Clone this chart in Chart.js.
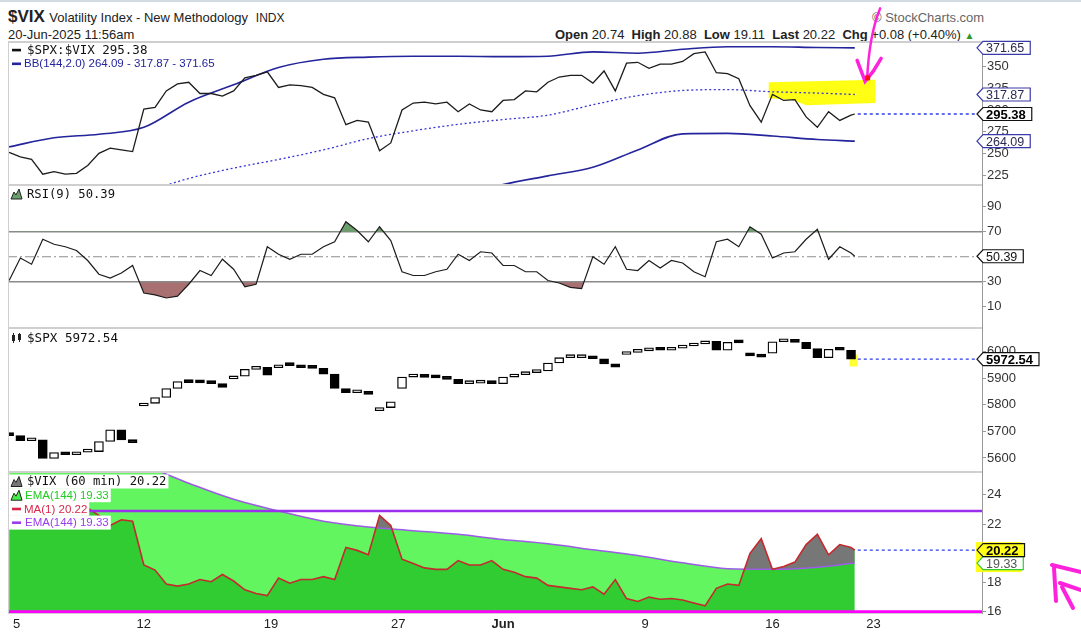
<!DOCTYPE html>
<html lang="en">
<head>
<meta charset="UTF-8">
<title>$VIX Volatility Index - New Methodology</title>
<style>
  body { margin: 0; background: #fff; font-family: "Liberation Sans", Arial, sans-serif; color: #222; }
  #page { position: relative; width: 1081px; height: 636px; overflow: hidden; }
  .topline { position: absolute; left: 0; top: 0; width: 1081px; height: 2px; background: #d3dbe2; }
  .hdr { position: absolute; white-space: nowrap; line-height: 16px; }
  canvas { position: absolute; left: 0; }
</style>
</head>
<body>
<div id="page">
  <div class="topline"></div>
  <div class="hdr" style="left:8px; top:9px;"><b style="font-size:17px">$VIX</b> <span style="font-size:13px">Volatility Index - New Methodology</span> <span style="font-size:12px">&nbsp;INDX</span></div>
  <div class="hdr" style="left:8px; top:27px; font-size:13px;">20-Jun-2025 11:56am</div>
  <div class="hdr" style="left:872px; top:10px; font-size:13px; color:#666;">&copy; StockCharts.com</div>
  <div class="hdr" style="left:555px; top:27px; font-size:13px;"><b>Open</b> 20.74 &nbsp;<b>High</b> 20.88 &nbsp;<b>Low</b> 19.11 &nbsp;<b>Last</b> 20.22 &nbsp;<b>Chg</b> +0.08 (+0.40%) <span style="color:#2a9a2a; font-size:10px">&#9650;</span></div>

  <canvas id="ratioChart" width="1081" height="191" style="top:0px"></canvas>
  <canvas id="rsiChart" width="1081" height="155" style="top:179px"></canvas>
  <canvas id="spxChart" width="1081" height="156" style="top:322px"></canvas>
  <canvas id="vixChart" width="1081" height="170" style="top:466px"></canvas>
</div>

<script src="https://cdn.jsdelivr.net/npm/chart.js"></script>
<script>
// x axis = hourly bar number (0 = first bar of 5-May, 226 = 20-Jun 11:30)
const dayTicks = [2, 36, 70, 104, 132, 170, 204, 231];
const dayLabels = ['5', '12', '19', '27', 'Jun', '9', '16', '23'];

// sampled every 3rd hourly bar
const barIdx = [
  0, 3, 6, 9, 12, 15, 18, 21, 24, 27,
  30, 33, 36, 39, 42, 45, 48, 51, 54, 57,
  60, 63, 66, 69, 72, 75, 78, 81, 84, 87,
  90, 93, 96, 99, 102, 105, 108, 111, 114, 117,
  120, 123, 126, 129, 132, 135, 138, 141, 144, 147,
  150, 153, 156, 159, 162, 165, 168, 171, 174, 177,
  180, 183, 186, 189, 192, 195, 198, 201, 204, 207,
  210, 213, 216, 219, 222, 225, 226
];

// $SPX:$VIX ratio
const ratio = [
  251, 246, 243, 226, 229, 226, 227, 236, 250, 256,
  254, 252, 301, 303, 322, 330, 332, 319, 319, 316,
  322, 337, 340, 344, 326, 329, 328, 326, 318, 314,
  283, 288, 286, 253, 262, 300, 308, 309, 307, 309,
  298, 307, 300, 298, 311, 312, 322, 321, 332, 338,
  340, 340, 331, 345, 322, 354, 355, 348, 353, 353,
  356, 365, 367, 343, 342, 336, 305, 286, 318, 311,
  312, 292, 280, 298, 288, 294, 295.38
];

// RSI(9)
const rsi = [
  31, 49, 44, 64, 60, 58, 55, 47, 36, 33,
  37, 43, 21, 19.5, 17, 18.5, 28, 39, 35, 48,
  40, 26, 28, 58, 52, 48, 52, 52, 58, 62,
  78, 71, 62, 74, 63, 38, 35, 35, 38, 40,
  52, 47, 54, 53, 43, 43, 38, 38, 31, 29,
  25.5, 24.5, 50, 44, 58, 40, 39, 47, 41, 47,
  45, 38, 34, 62, 64, 58, 74, 68, 49, 53,
  54, 64, 72, 48, 58, 53, 50.39
];

// $VIX (60 min)
const vix = [
  23.0, 23.2, 23.0, 23.3, 23.1, 23.2, 23.0, 23.1, 22.6, 21.9,
  22.3, 22.2, 19.2, 18.85, 17.9, 17.75, 17.9, 18.2, 18.05, 18.55,
  18.1, 17.5, 17.25, 17.1, 18.3, 17.95, 18.2, 18.2, 18.4, 18.2,
  20.4, 20.2, 19.9, 22.6, 21.9, 19.6, 19.3, 19.0, 18.9, 18.9,
  19.5, 19.2, 19.2, 19.5, 18.9, 18.7, 18.4, 18.3, 17.8, 17.7,
  17.6, 17.5, 17.7, 17.2, 18.2, 16.9, 16.7, 17.0, 16.85, 16.9,
  16.8, 16.6, 16.4, 17.6, 17.9, 17.8, 20.0, 21.0, 18.9, 19.1,
  19.4, 20.6, 21.3, 19.9, 20.6, 20.4, 20.22
];

// $SPX candles (one per 3 bars)
const spxOpen = [
  5690, 5684, 5665, 5668, 5598, 5620, 5612, 5622, 5624, 5662,
  5706, 5668, 5796, 5806, 5828, 5862, 5888, 5884, 5883, 5880,
  5898, 5908, 5934, 5942, 5940, 5950, 5948, 5940, 5938, 5916,
  5862, 5846, 5846, 5778, 5790, 5862, 5905, 5910, 5904, 5902,
  5896, 5880, 5882, 5884, 5880, 5905, 5914, 5922, 5928, 5958,
  5978, 5978, 5978, 5974, 5955, 5990, 5998, 6004, 6008, 6006,
  6014, 6022, 6030, 6040, 6006, 6036, 5992, 5985, 5995, 6038,
  6040, 6036, 6012, 5978, 6010, 6006
];
const spxClose = [
  5684, 5665, 5668, 5598, 5620, 5612, 5622, 5624, 5662, 5706,
  5668, 5658, 5806, 5828, 5862, 5888, 5884, 5883, 5880, 5866,
  5908, 5934, 5942, 5912, 5950, 5948, 5940, 5938, 5916, 5862,
  5846, 5846, 5840, 5790, 5812, 5905, 5910, 5904, 5902, 5896,
  5880, 5882, 5884, 5880, 5905, 5914, 5922, 5928, 5958, 5978,
  5978, 5978, 5974, 5955, 5942, 5998, 6004, 6008, 6006, 6014,
  6022, 6030, 6040, 6006, 6036, 6034, 5985, 5980, 6038, 6040,
  6036, 6012, 5978, 6010, 6006, 5972.54
];

// slow overlays, sampled every 12 bars
const slowIdx = [0, 12, 24, 36, 48, 60, 72, 84, 96, 108, 120, 132, 144, 156, 168, 180, 192, 204, 216, 226];
const bbUpper = [257.5, 268, 272, 280, 309, 329, 349, 358.5, 361, 362, 362, 361.5, 362, 367, 365.5, 370, 373, 373, 372, 371.65];
const bbMid = [null, null, null, 205, 221, 233, 243, 254, 267, 276, 283.5, 289, 294, 306, 316.5, 322.5, 323.5, 321, 319.5, 317.87];
const bbLower = [null, null, null, null, null, null, null, null, null, null, 200, 214, 224, 234, 254, 272.5, 273, 270, 266, 264.09];
const vixEma = [28.6, 27.6, 26.8, 26.0, 24.8, 23.7, 22.9, 22.2, 21.8, 21.55, 21.3, 20.95, 20.65, 20.25, 19.85, 19.35, 18.95, 18.9, 19.05, 19.33];

const ratioTicks = [225, 250, 275, 300, 325, 350];
const rsiTicks = [10, 30, 50, 70, 90];
const rsiLevels = [70, 50, 30];
const spxTicks = [5600, 5700, 5800, 5900, 6000];
const vixTicks = [16, 18, 20, 22, 24];
const vixLines = [22.9, 16.0];   // hand drawn horizontal lines

// hand drawn marks, in data units
const ratioMark = [[203, 332], [231.5, 335], [231.5, 308], [213, 305.5], [209.5, 311.5], [203, 313.5]];
const arrowTip = [229.3, 333];
const spxMark = [224.6, 226.7, 5945, 5990];

const LF = '"Liberation Sans", Arial, sans-serif';
const MF = '"DejaVu Sans Mono", monospace';
Chart.defaults.font.family = LF;
Chart.defaults.font.size = 13;
Chart.defaults.color = '#333';

const X_MIN = -0.3, X_MAX = 260;
const pts = (xs, ys) => ys.map((y, i) => ({ x: xs[i], y: y }));
const hline = v => [{ x: X_MIN, y: v }, { x: X_MAX, y: v }];
const last = a => a[a.length - 1];
const lastX = last(barIdx);

function xAxis(show) {
  return {
    type: 'linear', min: X_MIN, max: X_MAX, display: show, offset: false,
    grid: { display: false, drawTicks: false, offset: false },
    border: { display: true, color: '#cfcfcf' },
    afterBuildTicks: s => { s.ticks = dayTicks.map(v => ({ value: v })); },
    afterFit: s => { if (show) s.height = 23; s.paddingLeft = 0; s.paddingRight = 0; },
    ticks: {
      autoSkip: false, maxRotation: 0, padding: 4, color: '#222',
      callback: v => dayLabels[dayTicks.indexOf(v)],
      font: c => ({ family: LF, size: 13, weight: (c.tick && c.tick.label === 'Jun') ? 'bold' : 'normal' })
    }
  };
}

function yAxis(min, max, ticks) {
  return {
    type: 'linear', position: 'right', min: min, max: max,
    grid: { drawOnChartArea: false, tickLength: 4, color: '#999' },
    border: { color: '#999' },
    afterBuildTicks: s => { s.ticks = ticks.map(v => ({ value: v })); },
    afterFit: s => { s.width = 99; s.paddingTop = 0; s.paddingBottom = 0; },
    ticks: { padding: 1, color: '#333', font: { size: 13 }, callback: v => v }
  };
}

function baseOptions(pad, showX, yMin, yMax, yTicks) {
  return {
    responsive: false,
    animation: false,
    events: [],
    layout: { padding: pad },
    plugins: { legend: { display: false }, tooltip: { enabled: false } },
    elements: { point: { radius: 0 }, line: { tension: 0 } },
    scales: { x: xAxis(showX), y: yAxis(yMin, yMax, yTicks) }
  };
}

// grey panel frame: top separator + left edge
const frame = {
  id: 'frame',
  afterDatasetsDraw(chart) {
    const { ctx, chartArea: a } = chart;
    ctx.save();
    ctx.strokeStyle = '#cfcfcf';
    ctx.lineWidth = 2;
    ctx.beginPath(); ctx.moveTo(a.left, a.top); ctx.lineTo(a.right, a.top); ctx.stroke();
    ctx.lineWidth = 1;
    ctx.beginPath(); ctx.moveTo(a.left + 0.5, a.top); ctx.lineTo(a.left + 0.5, a.bottom); ctx.stroke();
    ctx.restore();
  }
};

function drawTag(chart, value, text, st) {
  const ctx = chart.ctx;
  const y = chart.scales.y.getPixelForValue(value);
  const x = chart.chartArea.right - 5;
  ctx.save();
  ctx.font = st.font;
  const w = ctx.measureText(text).width + 9;
  const h = 13;
  ctx.beginPath();
  ctx.moveTo(x, y);
  ctx.lineTo(x + 6, y - h / 2);
  ctx.lineTo(x + 6 + w, y - h / 2);
  ctx.lineTo(x + 6 + w, y + h / 2);
  ctx.lineTo(x + 6, y + h / 2);
  ctx.closePath();
  ctx.fillStyle = st.bg || '#fff';
  ctx.fill();
  ctx.lineWidth = 1.2;
  ctx.strokeStyle = st.border;
  ctx.stroke();
  ctx.fillStyle = st.color;
  ctx.textAlign = 'left';
  ctx.textBaseline = 'middle';
  ctx.fillText(text, x + 9, y + 1);
  ctx.restore();
  return y;
}

function lastLine(chart, value) {
  const ctx = chart.ctx;
  const x0 = chart.scales.x.getPixelForValue(lastX);
  const y = chart.scales.y.getPixelForValue(value);
  ctx.save();
  ctx.setLineDash([3, 3]);
  ctx.strokeStyle = '#2b3cf0';
  ctx.lineWidth = 1.3;
  ctx.beginPath(); ctx.moveTo(x0 + 3, y); ctx.lineTo(chart.chartArea.right, y); ctx.stroke();
  ctx.restore();
}

function drawIcon(ctx, kind, x, y, color) {
  ctx.save();
  ctx.fillStyle = color;
  ctx.strokeStyle = '#222';
  if (kind === 'dash') {
    ctx.fillRect(x + 1, y - 1.2, 9, 2.6);
  } else if (kind === 'mount') {
    ctx.beginPath();
    ctx.moveTo(x, y + 5); ctx.lineTo(x + 3, y - 2); ctx.lineTo(x + 5, y + 1);
    ctx.lineTo(x + 8, y - 5); ctx.lineTo(x + 11, y + 5); ctx.closePath();
    ctx.fill();
    ctx.lineWidth = 1; ctx.stroke();
  } else if (kind === 'candle') {
    ctx.fillStyle = '#222';
    ctx.fillRect(x + 1, y - 3, 3, 6);
    ctx.fillRect(x + 2, y - 5, 1, 10);
    ctx.fillRect(x + 7, y - 4, 3, 6);
    ctx.fillRect(x + 8, y - 5, 1, 9);
  }
  ctx.restore();
}

function drawLegend(chart, rows, dy) {
  const ctx = chart.ctx;
  const a = chart.chartArea;
  ctx.save();
  ctx.textBaseline = 'middle';
  ctx.textAlign = 'left';
  rows.forEach((r, i) => {
    const y = a.top + dy + i * 13.7;
    ctx.font = r.font;
    const tx = a.left + r.tx;
    const w = ctx.measureText(r.text).width;
    if (r.bg) { ctx.fillStyle = '#fff'; ctx.fillRect(a.left + 1, y - 7, r.tx + w + 1, 14); }
    drawIcon(ctx, r.icon, a.left + 3, y, r.iconColor || r.color);
    ctx.fillStyle = r.color;
    ctx.fillText(r.text, tx, y + 0.5);
  });
  ctx.restore();
}

const f2 = v => v.toFixed(2);
const MONO = '12.2px ' + MF;
const PROP = '11.5px ' + LF;
const NAVY = '#24249c';
const MAGENTA = '#ff22dd';

// ---------- panel 1: $SPX:$VIX with Bollinger Bands ----------
new Chart(document.getElementById('ratioChart'), {
  type: 'line',
  data: {
    datasets: [
      { data: pts(barIdx, ratio), borderColor: '#1c1c1c', borderWidth: 1.3, order: 0 },
      { data: pts(slowIdx, bbUpper), borderColor: NAVY, borderWidth: 1.6, cubicInterpolationMode: 'monotone', order: 1 },
      { data: pts(slowIdx, bbMid), borderColor: '#3636d6', borderWidth: 1.3, borderDash: [2, 2.5], cubicInterpolationMode: 'monotone', order: 1 },
      { data: pts(slowIdx, bbLower), borderColor: NAVY, borderWidth: 1.6, cubicInterpolationMode: 'monotone', order: 1 }
    ]
  },
  options: baseOptions({ left: 8, top: 42, right: 0, bottom: 6 }, false, 213.5, 378.4, ratioTicks),
  plugins: [frame, {
    id: 'ratioExtras',
    beforeDatasetsDraw(chart) {
      const { ctx, scales: { x, y } } = chart;
      ctx.save();
      ctx.fillStyle = '#ffff14';
      ctx.beginPath();
      ratioMark.forEach((p, k) => {
        const px = x.getPixelForValue(p[0]), py = y.getPixelForValue(p[1]);
        if (k) ctx.lineTo(px, py); else ctx.moveTo(px, py);
      });
      ctx.closePath(); ctx.fill();
      ctx.restore();
    },
    afterDraw(chart) {
      const { ctx, scales: { x, y } } = chart;
      drawLegend(chart, [
        { icon: 'dash', color: '#111', text: '$SPX:$VIX ' + f2(last(ratio)), font: '12.5px ' + MF, tx: 19 },
        { icon: 'dash', color: NAVY, text: 'BB(144,2.0) ' + f2(last(bbLower)) + ' - ' + f2(last(bbMid)) + ' - ' + f2(last(bbUpper)), font: PROP, tx: 16 }
      ], 8);
      lastLine(chart, last(ratio));
      const bbTag = { font: '12.5px ' + LF, border: '#3a3aa8', color: '#2a2a55' };
      drawTag(chart, last(bbUpper), f2(last(bbUpper)), bbTag);
      drawTag(chart, last(bbMid), f2(last(bbMid)), bbTag);
      drawTag(chart, last(ratio), f2(last(ratio)), { font: 'bold 13px ' + LF, border: '#111', color: '#000' });
      drawTag(chart, last(bbLower), f2(last(bbLower)), bbTag);

      // hand drawn magenta arrow
      const tx = x.getPixelForValue(arrowTip[0]), ty = y.getPixelForValue(arrowTip[1]);
      ctx.save();
      ctx.strokeStyle = MAGENTA;
      ctx.lineCap = 'round';
      ctx.lineWidth = 2.5;
      ctx.beginPath();
      ctx.moveTo(tx + 13, ty - 73);
      ctx.quadraticCurveTo(tx + 2, ty - 46, tx, ty - 2);
      ctx.stroke();
      ctx.lineWidth = 3.5;
      ctx.beginPath();
      ctx.moveTo(tx - 10, ty - 21); ctx.lineTo(tx - 2, ty);
      ctx.lineTo(tx + 6, ty - 10); ctx.lineTo(tx + 14, ty - 23);
      ctx.stroke();
      ctx.fillStyle = '#ff1010';
      ctx.fillRect(tx - 2, ty - 6, 5, 5);
      ctx.restore();
    }
  }]
});

// ---------- panel 2: RSI(9) ----------
new Chart(document.getElementById('rsiChart'), {
  type: 'line',
  data: {
    datasets: [
      { data: pts(barIdx, rsi), borderColor: '#1c1c1c', borderWidth: 1.2, order: 0,
        backgroundColor: '#6a9e6a', fill: { target: { value: rsiLevels[0] }, above: '#6a9e6a', below: 'rgba(0,0,0,0)' } },
      { data: pts(barIdx, rsi), borderColor: 'rgba(0,0,0,0)', borderWidth: 0, order: 3,
        backgroundColor: '#a87070', fill: { target: { value: rsiLevels[2] }, above: 'rgba(0,0,0,0)', below: '#a87070' } },
      { data: hline(rsiLevels[0]), borderColor: '#8a8a8a', borderWidth: 1.5, order: 2 },
      { data: hline(rsiLevels[1]), borderColor: '#8e8e8e', borderWidth: 1.2, borderDash: [9, 3, 2, 3], order: 2 },
      { data: hline(rsiLevels[2]), borderColor: '#8a8a8a', borderWidth: 1.5, order: 2 }
    ]
  },
  options: baseOptions({ left: 8, top: 6, right: 0, bottom: 6 }, false, -7, 107.4, rsiTicks),
  plugins: [frame, {
    id: 'rsiExtras',
    afterDraw(chart) {
      drawLegend(chart, [
        { icon: 'mount', color: '#111', iconColor: '#6a9e6a', text: 'RSI(9) ' + f2(last(rsi)), font: MONO, tx: 19 }
      ], 9);
      drawTag(chart, last(rsi), f2(last(rsi)), { font: '12.5px ' + LF, border: '#111', color: '#111' });
    }
  }]
});

// ---------- panel 3: $SPX hourly candles ----------
const spxBars = spxOpen.map((o, i) => ({ x: barIdx[i], y: [o, spxClose[i]] }));
new Chart(document.getElementById('spxChart'), {
  type: 'bar',
  data: {
    datasets: [{
      data: spxBars,
      barThickness: 9,
      minBarLength: 3,
      borderWidth: 1.3,
      borderSkipped: false,
      borderColor: '#000',
      backgroundColor: c => (c.raw && c.raw.y[1] >= c.raw.y[0]) ? '#fff' : '#000'
    }]
  },
  options: baseOptions({ left: 8, top: 6, right: 0, bottom: 6 }, false, 5547, 6090, spxTicks),
  plugins: [frame, {
    id: 'spxExtras',
    beforeDatasetsDraw(chart) {
      const { ctx, scales: { x, y } } = chart;
      const l = x.getPixelForValue(spxMark[0]), r = x.getPixelForValue(spxMark[1]);
      const b = y.getPixelForValue(spxMark[2]), t = y.getPixelForValue(spxMark[3]);
      ctx.save();
      ctx.fillStyle = '#ffff33';
      ctx.fillRect(l, t, r - l, b - t);
      ctx.restore();
    },
    afterDraw(chart) {
      drawLegend(chart, [
        { icon: 'candle', color: '#111', text: '$SPX ' + f2(last(spxClose)), font: '12.6px ' + MF, tx: 19 }
      ], 10);
      lastLine(chart, last(spxClose));
      drawTag(chart, last(spxClose), f2(last(spxClose)), { font: 'bold 13px ' + LF, border: '#111', color: '#000' });
    }
  }]
});

// ---------- panel 4: $VIX 60 min with EMA(144) ----------
const vixPts = pts(barIdx, vix);
const emaPts = pts(slowIdx, vixEma);
new Chart(document.getElementById('vixChart'), {
  type: 'line',
  data: {
    datasets: [
      { data: vixPts, order: 6, borderColor: 'rgba(0,0,0,0)', borderWidth: 0, backgroundColor: '#31cc31', fill: 'start' },
      { data: emaPts, order: 5, borderColor: 'rgba(0,0,0,0)', borderWidth: 0, cubicInterpolationMode: 'monotone',
        backgroundColor: '#63f55f', fill: { target: 0, above: '#63f55f', below: '#777777' } },
      { data: emaPts, order: 2, borderColor: '#9d5ce6', borderWidth: 1.5, cubicInterpolationMode: 'monotone' },
      { data: vixPts, order: 1, borderColor: '#c42a2e', borderWidth: 1.6 },
      { data: hline(vixLines[0]), order: 0, borderColor: '#9a30ee', borderWidth: 2.5 },
      { data: hline(vixLines[1]), order: 0, borderColor: '#ff00ff', borderWidth: 3 }
    ]
  },
  options: baseOptions({ left: 8, top: 6, right: 0, bottom: 0 }, true, 15.91, 25.57, vixTicks),
  plugins: [frame, {
    id: 'vixExtras',
    afterDraw(chart) {
      const { ctx, chartArea: a } = chart;
      drawLegend(chart, [
        { icon: 'mount', color: '#111', iconColor: '#777', text: '$VIX (60 min) ' + f2(last(vix)), font: MONO, tx: 19, bg: true },
        { icon: 'mount', color: '#22cc22', iconColor: '#44ee44', text: 'EMA(144) ' + f2(last(vixEma)), font: PROP, tx: 17, bg: true },
        { icon: 'dash', color: '#d8264a', text: 'MA(1) ' + f2(last(vix)), font: PROP, tx: 16, bg: true },
        { icon: 'dash', color: '#9a3cf0', text: 'EMA(144) ' + f2(last(vixEma)), font: PROP, tx: 17, bg: true }
      ], 9.5);
      lastLine(chart, last(vix));
      const yv = chart.scales.y.getPixelForValue(last(vix));
      const ye = chart.scales.y.getPixelForValue(last(vixEma));
      ctx.save();
      ctx.fillStyle = '#ffff1a';
      ctx.fillRect(a.right - 6, yv - 8, 46, ye - yv + 17);
      ctx.restore();
      drawTag(chart, last(vixEma), f2(last(vixEma)), { font: '12.5px ' + LF, border: '#33cc33', color: '#555' });
      drawTag(chart, last(vix), f2(last(vix)), { font: 'bold 13px ' + LF, border: '#111', color: '#000', bg: '#ffff1a' });

      // hand drawn scribble at the right edge
      const r = a.right;
      ctx.save();
      ctx.strokeStyle = MAGENTA;
      ctx.lineWidth = 4;
      ctx.lineCap = 'round';
      [[70, -48, 99, -41], [72, -45, 74, -12], [78, -30, 99, -23], [80, -26, 91, -5]].forEach(s => {
        ctx.beginPath();
        ctx.moveTo(r + s[0], a.bottom + s[1]);
        ctx.lineTo(r + s[2], a.bottom + s[3]);
        ctx.stroke();
      });
      ctx.restore();
    }
  }]
});
</script>
</body>
</html>
